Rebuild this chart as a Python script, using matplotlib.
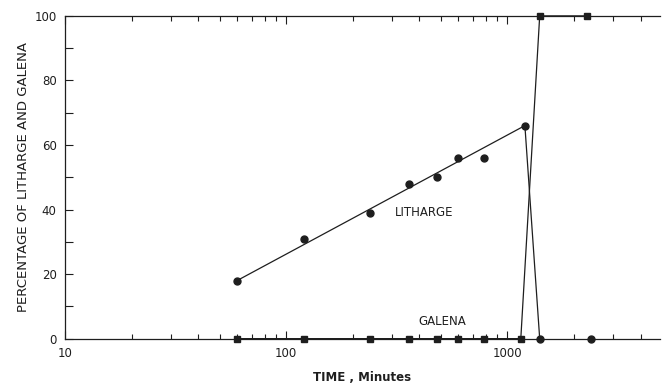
import matplotlib.pyplot as plt
import numpy as np

# data
lith_time = [60, 120, 240, 360, 480, 600, 780, 1200, 1400, 2400]
lith_pct = [18, 31, 39, 48, 50, 56, 56, 66, 0, 0]
lith_line_time = [60, 1200, 1400]
lith_line_pct = [18, 66, 0]

gal_time = [60, 120, 240, 360, 480, 600, 780, 1150, 1400, 2300]
gal_pct = [0, 0, 0, 0, 0, 0, 0, 0, 100, 100]

ink = "#1e1e1e"

fig = plt.figure(figsize=(6.64, 3.87), dpi=100)
ax = fig.add_axes([0.098, 0.125, 0.896, 0.834])

ax.plot(lith_line_time, lith_line_pct, color=ink, lw=0.9, clip_on=False)
ax.plot(lith_time, lith_pct, "o", color=ink, ms=5, clip_on=False, zorder=3)
ax.plot(gal_time, gal_pct, color=ink, lw=0.9, clip_on=False)
ax.plot(gal_time, gal_pct, "s", color=ink, ms=5, clip_on=False, zorder=3)

ax.set_xscale("log")
ax.set_xlim(10, 4900)
ax.set_ylim(0, 100)

ax.set_yticks(np.arange(0, 101, 20))
ax.set_yticks(np.arange(10, 100, 20), minor=True)
ax.set_xticks([10, 100, 1000])
ax.set_xticklabels(["10", "100", "1000"])

ax.tick_params(axis="both", which="both", direction="in", colors=ink,
               labelsize=8.5, width=0.8)
ax.tick_params(axis="y", which="both", length=6, pad=6)
ax.tick_params(axis="x", which="major", length=6, top=True, pad=6)
ax.tick_params(axis="x", which="minor", length=3.5, top=True)

ax.spines["right"].set_visible(False)
for s in ["left", "bottom", "top"]:
    ax.spines[s].set_color(ink)
    ax.spines[s].set_linewidth(0.9)

ax.text(420, 39, "LITHARGE", fontsize=8.5, color=ink, ha="center", va="center")
ax.text(510, 5.3, "GALENA", fontsize=8.5, color=ink, ha="center", va="center")

ax.set_xlabel("TIME , Minutes", fontsize=8.5, fontweight="bold", color=ink,
              labelpad=8)
ax.set_ylabel("PERCENTAGE OF LITHARGE AND GALENA", fontsize=9.5, color=ink,
              labelpad=3)

plt.savefig("out.png")
